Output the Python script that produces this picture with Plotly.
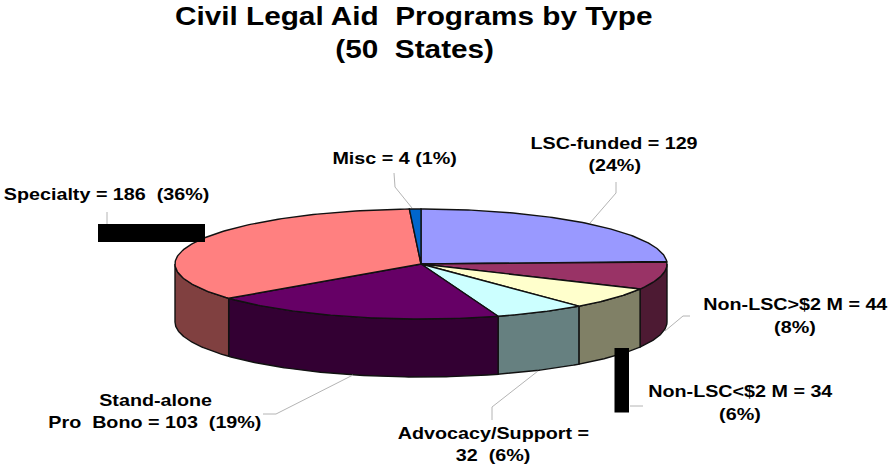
import numpy as np
import plotly.graph_objects as go

# Programs by type, clockwise from twelve o'clock
categories = ["LSC-funded", "Non-LSC>$2 M", "Non-LSC<$2 M", "Advocacy/Support",
              "Stand-alone Pro Bono", "Specialty", "Misc"]
counts = [129, 44, 34, 32, 103, 186, 4]
top_colors = ["#9999FF", "#993366", "#FFFFCC", "#CCFFFF", "#660066", "#FF8080", "#0066CC"]
wall_colors = ["#4D4D80", "#4D1A33", "#808066", "#668080", "#330033", "#804040", "#003366"]

title_lines = ["Civil Legal Aid\u00a0\u00a0Programs by Type", "(50\u00a0\u00a0States)"]

# (text, centre x, centre y) for each line of the slice labels
label_lines = [
    ("Misc = 4 (1%)", 394, 158),
    ("LSC-funded = 129", 614, 143),
    ("(24%)", 614, 165),
    ("Specialty = 186\u00a0\u00a0(36%)", 106, 194),
    ("Non-LSC>$2 M = 44", 795, 304),
    ("(8%)", 795, 327),
    ("Non-LSC<$2 M = 34", 740, 391),
    ("(6%)", 740, 414),
    ("Advocacy/Support =", 493, 433),
    ("32\u00a0\u00a0(6%)", 493, 455),
    ("Stand-alone", 155, 400),
    ("Pro\u00a0\u00a0Bono = 103\u00a0\u00a0(19%)", 155, 422),
]

leaders = [
    ([394, 395, 412], [173, 187, 208]),
    ([616, 616, 590], [182, 193, 223]),
    ([107, 107], [212, 224]),
    ([690, 683, 665], [316, 316, 331]),
    ([630, 643], [406, 406]),
    ([492, 492, 538], [420, 407, 371]),
    ([263, 276, 353], [414, 414, 375]),
]

# Tilted disc geometry on a canvas axis that runs in page pixels
CX, CY, RX, RY, DEPTH = 421, 264, 246, 55, 58
EDGE = "#111111"


def rim(t):
    return CX + RX * np.sin(t), CY - RY * np.cos(t)


edges = np.radians(np.concatenate([[0], np.cumsum(counts)]) / sum(counts) * 360)
fig = go.Figure()


def add_polygon(xs, ys, color, name):
    fig.add_trace(go.Scatter(
        x=xs, y=ys, mode="lines", fill="toself", fillcolor=color, name=name,
        line=dict(color=EDGE, width=1.4), hoverinfo="name", showlegend=False,
    ))


# Side walls first: only the front half of the rim (90 to 270 degrees) shows
for name, a, b, color in zip(categories, edges[:-1], edges[1:], wall_colors):
    lo, hi = max(a, np.pi / 2), min(b, 3 * np.pi / 2)
    if hi <= lo:
        continue
    t = np.linspace(lo, hi, 80)
    x, y = rim(t)
    add_polygon(np.r_[x, x[::-1], x[0]], np.r_[y, y[::-1] + DEPTH, y[0]], color, name)

# Top face of each slice
for name, a, b, color in zip(categories, edges[:-1], edges[1:], top_colors):
    t = np.linspace(a, b, 120)
    x, y = rim(t)
    add_polygon(np.r_[CX, x, CX], np.r_[CY, y, CY], color, name)

for xs, ys in leaders:
    fig.add_trace(go.Scatter(x=xs, y=ys, mode="lines", hoverinfo="skip", showlegend=False,
                             line=dict(color="#B4B4B4", width=1)))

font = "Liberation Sans, Arial, sans-serif"
annotations = [
    dict(x=cx, y=cy, text=text, showarrow=False, xanchor="center", yanchor="middle",
         font=dict(family=font, size=17, color="#000000"))
    for text, cx, cy in label_lines
]
for line, cy in zip(title_lines, [16, 49]):
    annotations.append(dict(x=414, y=cy, text=line, showarrow=False, xanchor="center",
                            yanchor="middle", font=dict(family=font, size=25, color="#000000")))
for a in annotations:
    a["text"] = "<b>" + a["text"] + "</b>"

# Opaque black blocks over the label area
blocks = [(98, 205, 224, 242), (614.5, 629, 348, 412.5)]
shapes = [dict(type="rect", x0=x0, x1=x1, y0=y0, y1=y1, xref="x", yref="y",
               fillcolor="#000000", line=dict(width=0), layer="above")
          for x0, x1, y0, y1 in blocks]

fig.update_layout(
    width=890, height=465, margin=dict(l=0, r=0, t=0, b=0, pad=0),
    paper_bgcolor="#FFFFFF", plot_bgcolor="#FFFFFF", showlegend=False,
    annotations=annotations, shapes=shapes,
    xaxis=dict(range=[0, 890], visible=False, fixedrange=True),
    yaxis=dict(range=[465, 0], visible=False, fixedrange=True),
)

# The lettering is set wide: stretch each text line about its own centre
widen_text = """
document.querySelectorAll('text.annotation-text').forEach(function (el) {
  var box = el.getBBox();
  var mid = box.x + box.width / 2;
  var k = parseFloat(el.style.fontSize) > 20 ? 1.19 : 1.16;
  el.setAttribute('transform',
    'translate(' + mid + ',0) scale(' + k + ',1) translate(' + (-mid) + ',0)');
});
"""
fig.write_html("out.html", config={"displayModeBar": False}, post_script=widen_text)
